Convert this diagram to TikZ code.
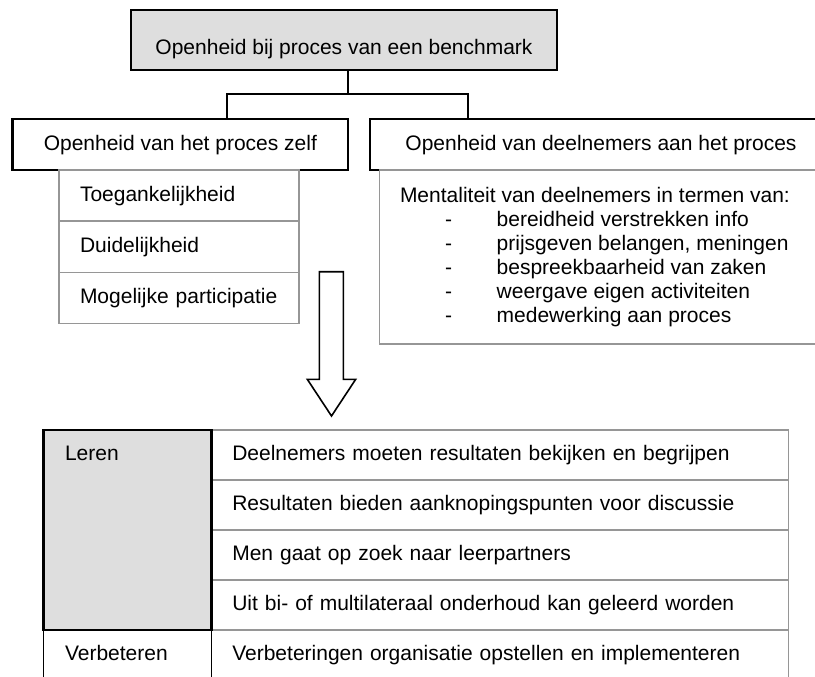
\documentclass[tikz,border=0pt]{standalone}
\usepackage{fontspec}
\setmainfont{Liberation Sans}
\usetikzlibrary{calc}
\definecolor{boxfill}{RGB}{222,222,222}
\definecolor{linegray}{RGB}{150,150,150}
\begin{document}
\begin{tikzpicture}[x=1pt,y=-1pt,
  every node/.style={font=\fontsize{21}{25}\selectfont, inner sep=0pt, outer sep=0pt},
  mainbox/.style={draw=black, line width=2.5pt, anchor=north west, text height=31pt, text depth=20pt, minimum height=51pt},
  subcell/.style={draw=linegray, line width=1.5pt, anchor=north west, text width=198pt, align=left, inner xsep=21pt, text height=31pt, text depth=20pt},
  tcell/.style={draw=linegray, line width=1.5pt, anchor=north west, text width=535.4pt, align=left, inner xsep=20.6pt, text height=30.7pt, text depth=19.3pt},
  conn/.style={draw=black, line width=1.2pt},
  txt/.style={anchor=base west}]
\clip (0,0) rectangle (815,677);
% top box
\node[draw=black, fill=boxfill, line width=2.5pt, anchor=north west, minimum width=426pt, text height=45pt, text depth=15pt] (top) at (131,10) {Openheid bij proces van een benchmark};
% second level
\node[mainbox, minimum width=335.3pt] (left) at (12.7,119) {Openheid van het proces zelf};
\node[mainbox, minimum width=462pt] (right) at (370,119) {Openheid van deelnemers aan het proces};
% connectors
\coordinate (jn) at (348,94);
\coordinate (jl) at (227,94);
\coordinate (jr) at (468,94);
\draw[conn] (top.south -| jn) -- (jn);
\draw[conn] (left.north -| jl) |- (jr) -- (right.north -| jr);
% left sub list
\node[subcell] (s1) at (59,170) {Toegankelijkheid};
\node[subcell] (s2) at (59,221.3) {Duidelijkheid};
\node[subcell] (s3) at (59,272.6) {Mogelijke participatie};
% right sub list
\node[draw=linegray, line width=1.5pt, anchor=north west, minimum width=452pt, minimum height=174pt] (ment) at (379.3,170) {};
\node[txt] (m0) at (400,202.3) {Mentaliteit van deelnemers in termen van:};
\foreach \i/\t in {1/bereidheid verstrekken info,2/prijsgeven belangen{,} meningen,3/bespreekbaarheid van zaken,4/weergave eigen activiteiten,5/medewerking aan proces}{
  \node[txt] (d\i) at (445,202.3+24*\i) {-};
  \node[txt] (m\i) at (496.7,202.3+24*\i) {\t};
}
% block arrow
\draw[line width=1.6pt, line join=miter, fill=white] (319.3,271.7) -- (319.3,379.3) -- (307.3,379.3) -- (331.5,416) -- (355.7,379.3) -- (343.3,379.3) -- (343.3,271.7) -- cycle;
% table right cells
\node[tcell] (r1) at (211.7,430) {Deelnemers moeten resultaten bekijken en begrijpen};
\node[tcell] (r2) at (211.7,480) {Resultaten bieden aanknopingspunten voor discussie};
\node[tcell] (r3) at (211.7,530) {Men gaat op zoek naar leerpartners};
\node[tcell] (r4) at (211.7,580) {Uit bi- of multilateraal onderhoud kan geleerd worden};
\node[tcell] (r5) at (211.7,630) {Verbeteringen organisatie opstellen en implementeren};
% left column
\node[draw=black, line width=1.3pt, anchor=north west, text width=125pt, align=left, inner xsep=21.7pt, text height=30pt, text depth=21pt] (verb) at (43.3,630) {Verbeteren};
\node[draw=black, fill=boxfill, line width=2.5pt, anchor=north west, minimum width=168.4pt, minimum height=200pt] (leren) at (43.3,430) {};
\node[txt] (lerentxt) at ($(leren.north west)+(21.7,30.7)$) {Leren};
\end{tikzpicture}
\end{document}
